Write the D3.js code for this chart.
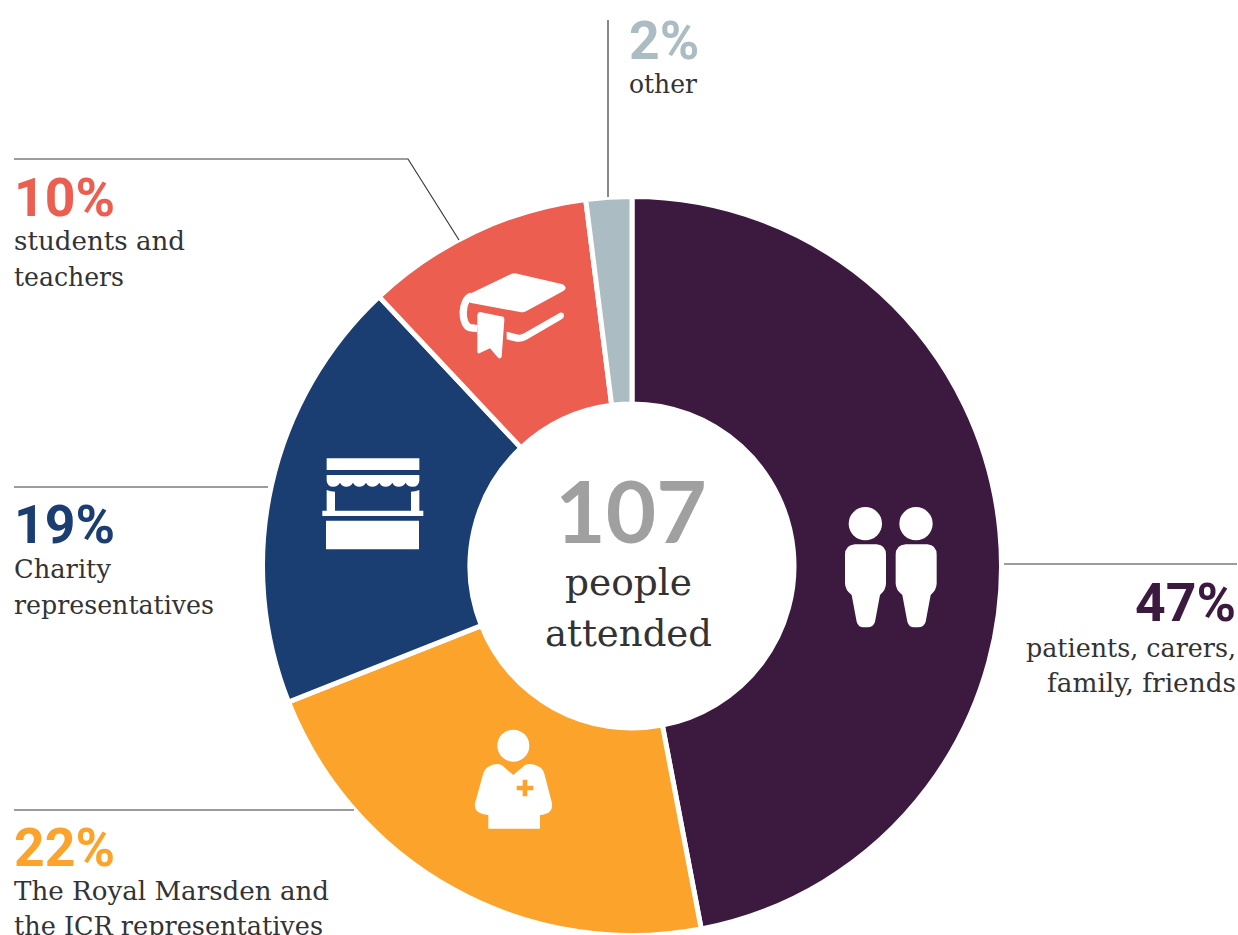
<!DOCTYPE html>
<html><head><meta charset="utf-8">
<script src="https://cdn.jsdelivr.net/npm/d3@7"></script>
<style>html,body{margin:0;padding:0;background:#fff;overflow:hidden}svg{display:block}</style>
</head><body>
<svg id="c" width="1238" height="935"></svg>
<script>
const categories = ["patients, carers, family, friends","The Royal Marsden and the ICR representatives","Charity representatives","students and teachers","other"];
const shares = [47,22,19,10,2];
const labels = ["47%","22%","19%","10%","2%"];
const colors = ["#3c1a40","#fba32a","#1a3e71","#ec5e50","#abbcc3"];
const descLines = [["patients, carers,","family, friends"],["The Royal Marsden and","the ICR representatives"],["Charity","representatives"],["students and","teachers"],["other"]];
const totalValue = "107";
const totalText = ["people","attended"];

const svg = d3.select("#c");
const cx = 632, cy = 566, R = 369.5, r = 162;
const SERIF = "'DejaVu Serif',serif", SANS = "Roboto,sans-serif";
const pie = d3.pie().sort(null)(shares);
const arc = d3.arc().innerRadius(r).outerRadius(R);
svg.append("g").attr("transform",`translate(${cx},${cy})`)
  .selectAll("path").data(pie).join("path")
  .attr("d",arc).attr("fill",(d,i)=>colors[i]).attr("stroke","#fff").attr("stroke-width",5).attr("stroke-linejoin","miter");

// leader lines
const leaders = ["M1004,564H1237","M14,810H354","M14,487H268","M14,159H408L459,240","M608,20V197"];
svg.append("g").selectAll("path").data(leaders).join("path")
  .attr("d",d=>d).attr("fill","none").attr("stroke","#3a3a3a").attr("stroke-width",1.2);

// labels
const lab = [
  {x:1236,y:621,a:"end",dy:[657,692],w:[210,189]},
  {x:14,y:866,a:"start",dy:[900,935],w:[315,309]},
  {x:14,y:543,a:"start",dy:[578,614],w:[97,200]},
  {x:14,y:216,a:"start",dy:[250,286],w:[171,110]},
  {x:629,y:59,a:"start",dy:[93],w:[68]}];
const gl = svg.append("g");
lab.forEach((p,i)=>{
  gl.append("text").attr("x",p.x).attr("y",p.y).attr("text-anchor",p.a)
    .attr("font-family",SANS).attr("font-weight",700).attr("font-size",53.5).attr("fill",colors[i]).text(labels[i]);
  descLines[i].forEach((t,j)=>gl.append("text").attr("x",p.x).attr("y",p.dy[j]).attr("text-anchor",p.a)
    .attr("font-family",SERIF).attr("font-size",26).attr("textLength",p.w[j]).attr("lengthAdjust","spacingAndGlyphs").attr("fill","#333").text(t));
});

// centre
svg.append("text").attr("x",631).attr("y",543).attr("text-anchor","middle").attr("font-family","Lato,sans-serif").attr("font-weight",700).attr("font-size",87).attr("fill","#a0a0a0").text(totalValue);
totalText.forEach((t,i)=>svg.append("text").attr("x",628.5).attr("y",[595,646][i]).attr("text-anchor","middle").attr("font-family",SERIF).attr("font-size",38).attr("textLength",[127,167][i]).attr("lengthAdjust","spacingAndGlyphs").attr("fill","#333").text(t));

// icons (drawn in 3x crop coordinates)
const s = 1/3;
const book = svg.append("g").attr("transform",`translate(420,240) scale(${s})`).attr("fill","#fff");
book.append("path").attr("d","M275,101Q285,98 295,102L428,133Q445,143 430,153L318,214Q310,218 300,216L150,188L142,165Z");
book.append("path").attr("d","M155,168C122,178 122,255 150,263L172,266").attr("fill","none").attr("stroke","#fff").attr("stroke-width",22);
book.append("path").attr("d","M180,216L250,230Q254,232 253,240L245,350Q242,358 235,354L210,325L178,340Q172,342 172,332L172,224Q173,216 180,216Z");
book.append("path").attr("d","M260,275L290,283Q302,286 312,280L420,218Q432,216 432,228Q430,236 425,238L318,300Q305,307 290,305L260,298Z");

const stall = svg.append("g").attr("transform",`translate(300,440) scale(${s})`).attr("fill","#fff");
stall.append("path").attr("d","M80,55H358V90H80Z");
stall.append("path").attr("d","M80,105H358V122Q356,140 338,140Q322,140 317,128Q310,140 296,140Q282,140 277,128Q270,140 257,140Q243,140 238,128Q230,140 217,140Q204,140 198,128Q191,140 178,140Q165,140 159,128Q152,140 139,140Q126,140 120,128Q113,140 100,140Q82,140 80,122Z");
stall.append("path").attr("d","M80,150Q92,155 105,155V212H333V155Q345,155 358,150V212H370V228H67V212H80Z");
stall.append("path").attr("d","M78,242H357V328H78Z");

const nurse = svg.append("g").attr("transform",`translate(450,710) scale(${s})`).attr("fill","#fff");
nurse.append("circle").attr("cx",190).attr("cy",107).attr("r",48);
nurse.append("path").attr("d","M115,170Q135,157 155,165L190,195L225,165Q245,157 270,172Q280,178 284,195L306,280Q310,312 270,315V356H115V315Q70,312 75,280L100,190Q104,176 115,170Z");
nurse.append("path").attr("fill","#fba32a").attr("d","M218,209H232V227H250V241H232V259H218V241H200V227H218Z");

const people = svg.append("g").attr("transform",`translate(820,490) scale(${s})`).attr("fill","#fff");
[0,152].forEach(dx=>{
  const g = people.append("g").attr("transform",`translate(${dx},0)`);
  g.append("circle").attr("cx",136).attr("cy",101).attr("r",50);
  g.append("path").attr("d","M105,163H170Q198,165 198,195V280Q198,300 180,315L165,395Q160,412 142,412H130Q115,412 110,395L95,315Q75,300 75,280V195Q75,165 105,163Z");
});
</script>
</body></html>
